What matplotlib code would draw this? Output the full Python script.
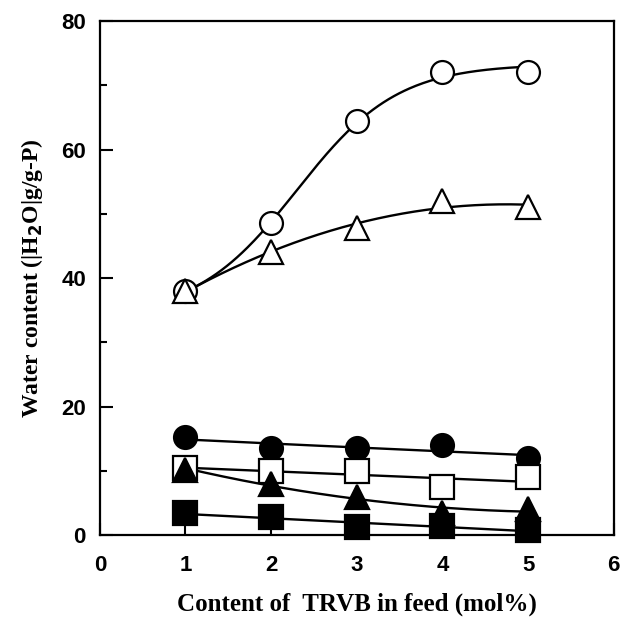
import numpy as np
import matplotlib
matplotlib.use("Agg")
import matplotlib.pyplot as plt
from matplotlib.ticker import MultipleLocator

# TRVB content in feed (mol%)
x = np.array([1, 2, 3, 4, 5])

# water content for each series
open_circle = [38, 48.5, 64.5, 72, 72]
open_triangle = [38, 44, 47.8, 52, 51]
filled_circle = [15.3, 13.5, 13.5, 14, 12]
open_square = [10.5, 10, 10, 7.5, 9]
filled_triangle = [10.2, 8, 6, 3.5, 4]
filled_square = [3.5, 2.8, 1.2, 1.5, 0.8]


def logistic_fit(xk, yk, xs):
    # y = a + b / (1 + exp(-k (x - x0))), grid over k, x0 and least squares for a, b
    xk = np.asarray(xk, float)
    yk = np.asarray(yk, float)
    best = None
    for k in np.linspace(0.5, 1.7, 49):
        for x0 in np.linspace(1.5, 4, 51):
            g = 1 / (1 + np.exp(-k * (xk - x0)))
            A = np.column_stack([np.ones_like(g), g])
            coef, *_ = np.linalg.lstsq(A, yk, rcond=None)
            err = np.sum((A @ coef - yk) ** 2)
            if best is None or err < best[0]:
                best = (err, k, x0, coef)
    _, k, x0, (a, b) = best
    return a + b / (1 + np.exp(-k * (xs - x0)))


# (values, marker, filled?, smoothing: 'logistic' or poly degree)
series = [
    (open_circle, 'o', False, 'logistic'),
    (open_triangle, '^', False, 2),
    (filled_circle, 'o', True, 2),
    (open_square, 's', False, 1),
    (filled_triangle, '^', True, 2),
    (filled_square, 's', True, 1),
]
msize = {'o': 16.5, '^': 17, 's': 17.5}

fig = plt.figure(figsize=(6.2, 6.18), dpi=100)
ax = fig.add_axes([0.161, 0.134, 0.829, 0.832])

xs = np.linspace(1, 5, 200)
for vals, mk, filled, fit in series:
    if fit == 'logistic':
        ys = logistic_fit(x, vals, xs)
    else:
        ys = np.polyval(np.polyfit(x, vals, fit), xs)
    ax.plot(xs, ys, color='black', lw=1.7, zorder=2)
    ax.plot(x, vals, linestyle='none', marker=mk, markersize=msize[mk],
            markerfacecolor='black' if filled else 'white',
            markeredgecolor='black', markeredgewidth=1.6, zorder=3, clip_on=False)

ax.set_xlim(0, 6)
ax.set_ylim(0, 80)
ax.xaxis.set_major_locator(MultipleLocator(1))
ax.yaxis.set_major_locator(MultipleLocator(20))
ax.yaxis.set_minor_locator(MultipleLocator(10))
ax.tick_params(which='both', direction='in', top=False, right=False, width=1.5)
ax.tick_params(which='major', length=9, pad=10)
ax.tick_params(which='minor', length=5)
ax.tick_params(axis='x', pad=14)
for s in ax.spines.values():
    s.set_linewidth(1.6)

for lab in ax.get_xticklabels() + ax.get_yticklabels():
    lab.set_fontfamily('Liberation Sans')
    lab.set_fontweight('bold')
    lab.set_fontsize(16)

ax.set_xlabel('Content of  TRVB in feed (mol%)', fontfamily='Liberation Serif',
              fontweight='bold', fontsize=18, labelpad=12)
ax.set_ylabel(r'Water content (|H$_\mathbf{2}$O|g/g-P)', fontfamily='Liberation Serif',
              fontweight='bold', fontsize=17, labelpad=12)

fig.savefig('out.png', dpi=100)
